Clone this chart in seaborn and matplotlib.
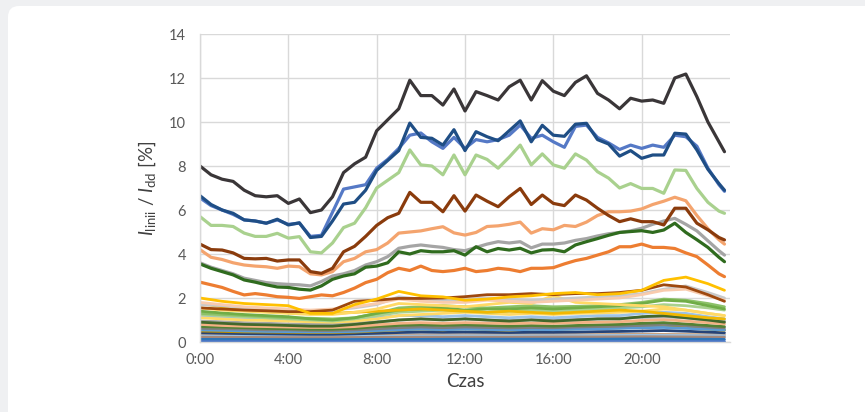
import numpy as np
import pandas as pd
import matplotlib
matplotlib.use('Agg')
import matplotlib.pyplot as plt
from matplotlib.patches import FancyBboxPatch
from matplotlib.transforms import IdentityTransform
import seaborn as sns

# ─── time grids (hours) ─────────────────────────────────────────────────────
T30 = np.append(np.arange(0, 24, 0.5), 23.75)
T60 = np.append(np.arange(0, 24, 1.0), 23.75)
T120 = np.append(np.arange(0, 24, 2.0), 23.75)

xtick_hours = [0, 4, 8, 12, 16, 20]
xtick_labels = ["0:00", "4:00", "8:00", "12:00", "16:00", "20:00"]

# ─── main lines, 30-min readings ────────────────────────────────────────────
black = [8.0, 7.6, 7.4, 7.3, 6.9, 6.65, 6.6, 6.65,
         6.3, 6.5, 5.88, 6.0, 6.6, 7.7, 8.1, 8.4,
         9.6, 10.1, 10.6, 11.9, 11.2, 11.2, 10.77, 11.5,
         10.5, 11.38, 11.2, 11.0, 11.6, 11.9, 11.0, 11.88,
         11.4, 11.2, 11.8, 12.1, 11.3, 11.0, 10.6, 11.08,
         10.95, 11.0, 10.85, 12.0, 12.18, 11.15, 10.0, 9.1,
         8.65]
navy = [6.65, 6.25, 6.0, 5.85, 5.55, 5.5, 5.4, 5.58,
        5.32, 5.42, 4.75, 4.8, 5.5, 6.27, 6.35, 6.9,
        7.8, 8.25, 8.7, 9.95, 9.3, 9.26, 8.95, 9.65,
        8.7, 9.56, 9.33, 9.15, 9.6, 10.05, 9.1, 9.85,
        9.4, 9.35, 9.9, 9.94, 9.2, 9.0, 8.45, 8.7,
        8.35, 8.5, 8.5, 9.49, 9.45, 8.73, 7.85, 7.2,
        6.9]
lblue = [6.55, 6.2, 6.0, 5.8, 5.55, 5.5, 5.4, 5.55,
         5.35, 5.4, 4.8, 4.85, 5.9, 6.95, 7.05, 7.15,
         7.9, 8.3, 8.8, 9.4, 9.5, 9.1, 8.8, 9.3,
         8.8, 9.2, 9.1, 9.2, 9.4, 9.86, 9.26, 9.4,
         9.1, 8.85, 9.8, 9.86, 9.3, 9.05, 8.75, 8.95,
         8.8, 8.95, 8.85, 9.4, 9.33, 8.9, 7.9, 7.15,
         6.85]
green = [5.7, 5.3, 5.3, 5.25, 4.95, 4.8, 4.8, 4.94,
         4.72, 4.79, 4.1, 4.05, 4.5, 5.2, 5.4, 6.1,
         7.0, 7.35, 7.7, 8.73, 8.05, 8.0, 7.6, 8.5,
         7.6, 8.5, 8.3, 7.9, 8.4, 8.95, 8.05, 8.55,
         8.05, 7.9, 8.55, 8.27, 7.74, 7.45, 7.0, 7.2,
         6.98, 6.98, 6.76, 7.82, 7.8, 6.98, 6.35, 5.95,
         5.85]
rust = [4.45, 4.2, 4.18, 4.05, 3.8, 3.78, 3.8, 3.68,
        3.73, 3.73, 3.2, 3.12, 3.35, 4.1, 4.35, 4.8,
        5.3, 5.65, 5.85, 6.8, 6.35, 6.35, 5.92, 6.65,
        5.95, 6.68, 6.4, 6.15, 6.6, 6.98, 6.25, 6.68,
        6.3, 6.2, 6.68, 6.45, 6.08, 5.75, 5.47, 5.6,
        5.47, 5.47, 5.32, 6.08, 6.08, 5.4, 5.1, 4.75,
        4.64]
salmon = [4.2, 3.85, 3.75, 3.6, 3.5, 3.45, 3.42, 3.35,
          3.45, 3.42, 3.1, 3.05, 3.2, 3.65, 3.8, 4.1,
          4.2, 4.5, 4.95, 5.0, 5.05, 5.15, 5.24, 4.96,
          4.86, 4.98, 5.25, 5.28, 5.35, 5.45, 4.95, 5.15,
          5.1, 5.3, 5.25, 5.45, 5.75, 5.92, 5.92, 5.95,
          6.05, 6.25, 6.4, 6.58, 6.42, 5.75, 5.15, 4.65,
          4.45]
gray = [3.6, 3.4, 3.25, 3.1, 2.9, 2.8, 2.7, 2.65,
        2.62, 2.6, 2.55, 2.75, 3.0, 3.1, 3.25, 3.5,
        3.65, 3.88, 4.26, 4.35, 4.41, 4.35, 4.3, 4.2,
        4.15, 4.3, 4.45, 4.56, 4.5, 4.56, 4.28, 4.45,
        4.45, 4.5, 4.62, 4.7, 4.82, 4.92, 4.98, 5.05,
        5.17, 5.35, 5.5, 5.62, 5.35, 5.05, 4.6, 4.15,
        3.95]
dgreen = [3.55, 3.35, 3.2, 3.05, 2.82, 2.72, 2.6, 2.5,
          2.48, 2.4, 2.36, 2.55, 2.85, 3.0, 3.1, 3.4,
          3.45, 3.6, 4.1, 4.0, 4.15, 4.1, 4.1, 4.15,
          3.95, 4.33, 4.1, 4.25, 4.18, 4.26, 4.05, 4.18,
          4.2, 4.1, 4.41, 4.56, 4.7, 4.85, 4.98, 5.02,
          5.06, 4.98, 5.09, 5.4, 4.98, 4.65, 4.3, 3.85,
          3.65]
dorange = [2.72, 2.6, 2.48, 2.3, 2.14, 2.2, 2.14, 2.06,
           2.03, 1.98, 2.06, 2.14, 2.1, 2.25, 2.45, 2.7,
           2.85, 3.15, 3.35, 3.25, 3.45, 3.25, 3.2, 3.25,
           3.35, 3.2, 3.25, 3.35, 3.3, 3.2, 3.35, 3.35,
           3.38, 3.55, 3.7, 3.8, 3.95, 4.1, 4.33, 4.33,
           4.45, 4.3, 4.3, 4.25, 4.05, 3.88, 3.5, 3.1,
           2.97]

# ─── low lines, hourly readings ─────────────────────────────────────────────
brown2 = [1.55, 1.5, 1.45, 1.42, 1.38, 1.38, 1.45, 1.85, 1.9, 1.98, 1.98, 2.0,
          2.06, 2.15, 2.15, 2.2, 2.15, 2.2, 2.2, 2.25, 2.35, 2.6, 2.5, 2.15, 1.85]
goldA = [2.0, 1.85, 1.75, 1.7, 1.65, 1.3, 1.3, 1.7, 1.95, 2.3, 2.1, 2.05,
         1.9, 1.95, 2.05, 2.1, 2.2, 2.25, 2.15, 2.2, 2.35, 2.8, 2.95, 2.65, 2.35]
goldB = [1.75, 1.6, 1.5, 1.45, 1.4, 1.3, 1.3, 1.35, 1.4, 1.45, 1.5, 1.45,
         1.4, 1.35, 1.4, 1.35, 1.3, 1.35, 1.4, 1.45, 1.4, 1.3, 1.2, 1.1, 1.05]
peach = [1.8, 1.7, 1.6, 1.55, 1.5, 1.45, 1.5, 1.6, 1.75, 1.95, 1.85, 1.8,
         1.8, 1.9, 1.85, 1.8, 1.85, 1.9, 1.95, 2.0, 2.15, 2.35, 2.4, 2.1, 1.9]
lgray = [1.7, 1.65, 1.55, 1.5, 1.45, 1.4, 1.45, 1.55, 1.7, 2.05, 1.95, 1.9,
         1.95, 2.0, 1.95, 1.9, 1.95, 2.0, 2.05, 2.1, 2.2, 2.4, 2.55, 2.25, 2.0]
green2 = [1.4, 1.32, 1.25, 1.2, 1.15, 1.05, 1.0, 1.1, 1.3, 1.45, 1.5, 1.55,
          1.45, 1.5, 1.5, 1.55, 1.5, 1.55, 1.6, 1.65, 1.75, 1.9, 1.85, 1.65, 1.5]
lgreen2 = [1.25, 1.2, 1.15, 1.1, 1.05, 1.0, 0.95, 1.05, 1.2, 1.35, 1.4, 1.45,
           1.4, 1.35, 1.4, 1.45, 1.4, 1.45, 1.5, 1.55, 1.6, 1.7, 1.65, 1.55, 1.45]
dgreen2 = [0.9, 0.85, 0.8, 0.78, 0.75, 0.72, 0.72, 0.8, 0.9, 1.0, 1.05, 1.0,
           1.05, 1.0, 0.95, 1.0, 0.95, 1.0, 1.05, 1.05, 1.15, 1.2, 1.1, 1.0, 0.9]
skyblue = [1.15, 1.1, 1.05, 1.0, 0.98, 0.95, 0.95, 1.0, 1.1, 1.2, 1.2, 1.15,
           1.2, 1.15, 1.1, 1.15, 1.1, 1.15, 1.2, 1.2, 1.3, 1.35, 1.3, 1.15, 1.05]
yellow = [1.55, 1.45, 1.4, 1.35, 1.3, 1.25, 1.25, 1.35, 1.5, 1.75, 1.7, 1.65,
          1.6, 1.7, 1.8, 1.75, 2.1, 1.8, 1.75, 1.7, 1.65, 1.6, 1.45, 1.3, 1.2]
green3 = [0.7, 0.68, 0.65, 0.62, 0.6, 0.58, 0.58, 0.62, 0.7, 0.75, 0.78, 0.75,
          0.78, 0.75, 0.72, 0.75, 0.72, 0.75, 0.78, 0.8, 0.85, 0.88, 0.82, 0.75, 0.7]
dgray = [0.62, 0.6, 0.58, 0.55, 0.55, 0.52, 0.52, 0.55, 0.6, 0.65, 0.68, 0.65,
         0.68, 0.66, 0.64, 0.66, 0.65, 0.68, 0.7, 0.72, 0.76, 0.8, 0.75, 0.68, 0.64]
bblue = [0.55, 0.53, 0.5, 0.48, 0.47, 0.46, 0.46, 0.48, 0.52, 0.56, 0.58, 0.56,
         0.58, 0.57, 0.55, 0.57, 0.56, 0.58, 0.6, 0.62, 0.65, 0.66, 0.62, 0.58, 0.55]
orange2 = [0.8, 0.75, 0.72, 0.7, 0.68, 0.66, 0.66, 0.7, 0.78, 0.85, 0.88, 0.85,
           0.88, 0.86, 0.84, 0.86, 0.85, 0.88, 0.9, 0.92, 0.98, 1.02, 0.95, 0.88, 0.82]
navy2 = [0.42, 0.4, 0.38, 0.37, 0.36, 0.35, 0.35, 0.37, 0.4, 0.43, 0.45, 0.44,
         0.45, 0.44, 0.43, 0.44, 0.44, 0.45, 0.47, 0.48, 0.5, 0.52, 0.49, 0.45, 0.42]
lime = [1.3, 1.25, 1.2, 1.15, 1.1, 1.08, 1.05, 1.1, 1.3, 1.55, 1.6, 1.65,
        1.6, 1.55, 1.6, 1.65, 1.6, 1.62, 1.65, 1.7, 1.8, 1.95, 1.9, 1.75, 1.6]
amber = [1.1, 1.05, 1.0, 0.98, 0.95, 0.92, 0.9, 0.95, 1.05, 1.2, 1.25, 1.3,
         1.35, 1.3, 1.25, 1.3, 1.25, 1.3, 1.32, 1.35, 1.4, 1.5, 1.45, 1.3, 1.2]
midgray = [0.95, 0.92, 0.88, 0.85, 0.82, 0.8, 0.8, 0.85, 0.92, 1.0, 1.05, 1.02,
           1.05, 1.0, 0.98, 1.02, 1.0, 1.02, 1.05, 1.08, 1.12, 1.15, 1.1, 1.0, 0.95]
olive = [0.5, 0.48, 0.46, 0.45, 0.44, 0.43, 0.43, 0.45, 0.5, 0.55, 0.58, 0.55,
         0.6, 0.56, 0.54, 0.58, 0.56, 0.6, 0.62, 0.64, 0.68, 0.7, 0.65, 0.58, 0.54]

# ─── near-zero lines, 2-hourly readings ─────────────────────────────────────
tan = [0.32, 0.31, 0.3, 0.3, 0.31, 0.32, 0.33, 0.33, 0.33, 0.34, 0.35, 0.34, 0.33]
ltblue = [0.27, 0.26, 0.25, 0.25, 0.26, 0.27, 0.28, 0.28, 0.28, 0.29, 0.3, 0.29, 0.28]
mauve = [0.22, 0.21, 0.2, 0.2, 0.21, 0.22, 0.22, 0.22, 0.23, 0.23, 0.24, 0.23, 0.22]
steel = [0.12, 0.12, 0.11, 0.11, 0.12, 0.12, 0.13, 0.13, 0.13, 0.13, 0.14, 0.13, 0.12]
blue3 = [0.05, 0.05, 0.05, 0.05, 0.05, 0.05, 0.05, 0.05, 0.05, 0.05, 0.05, 0.05, 0.05]

# name -> (times, values, colour), drawing order bottom to top
low_series = {
    "tan": (T120, tan, "#c9a27e"), "ltblue": (T120, ltblue, "#9dc3e6"),
    "mauve": (T120, mauve, "#a5887a"), "steel": (T120, steel, "#2e75b6"),
    "blue3": (T120, blue3, "#4472c4"),
    "navy2": (T60, navy2, "#264478"), "olive": (T60, olive, "#bf9000"),
    "bblue": (T60, bblue, "#5b9bd5"),
    "dgray": (T60, dgray, "#7f7f7f"), "green3": (T60, green3, "#548235"),
    "orange2": (T60, orange2, "#f4b183"), "midgray": (T60, midgray, "#a5a5a5"),
    "dgreen2": (T60, dgreen2, "#43682b"),
    "skyblue": (T60, skyblue, "#9dc3e6"), "amber": (T60, amber, "#ffd966"),
    "lgreen2": (T60, lgreen2, "#a9d18e"), "lime": (T60, lime, "#8cc168"),
    "green2": (T60, green2, "#70ad47"), "goldB": (T60, goldB, "#f2b800"),
    "yellow": (T60, yellow, "#ffd966"), "lgray": (T60, lgray, "#c9c9c9"),
    "peach": (T60, peach, "#f8cbad"), "brown2": (T60, brown2, "#9e480e"),
    "goldA": (T60, goldA, "#ffc000"),
}
main_series = {
    "dorange": (T30, dorange, "#ed7d31"), "gray": (T30, gray, "#a5a5a5"),
    "dgreen": (T30, dgreen, "#2f6b1e"), "salmon": (T30, salmon, "#f4a46e"),
    "rust": (T30, rust, "#8a3b0c"), "green": (T30, green, "#a9d18e"),
    "lblue": (T30, lblue, "#5579c6"), "navy": (T30, navy, "#1f4e85"),
    "black": (T30, black, "#3a3638"),
}


def to_frame(series):
    parts = [pd.DataFrame({"t": t, "v": v, "series": name})
             for name, (t, v, _) in series.items()]
    return pd.concat(parts, ignore_index=True)


sns.set_style("white")
plt.rcParams['font.family'] = ['Lato', 'DejaVu Sans']
plt.rcParams['mathtext.fontset'] = 'custom'
plt.rcParams['mathtext.rm'] = 'Lato'
plt.rcParams['mathtext.it'] = 'Lato:italic'

fig = plt.figure(figsize=(8.65, 4.12), dpi=100, facecolor="#eff0f2")
# white rounded card behind the chart
fig.patches.append(FancyBboxPatch((8, -12), 870, 418,
                                  boxstyle="round,pad=0,rounding_size=11",
                                  transform=IdentityTransform(),
                                  facecolor="white", edgecolor="none", zorder=-5))
ax = fig.add_axes([200 / 865, 70 / 412, 530 / 865, 308 / 412])
ax.set_facecolor("white")

for group, lw in ((low_series, 2.0), (main_series, 2.3)):
    df = to_frame(group)
    sns.lineplot(data=df, x="t", y="v", hue="series", hue_order=list(group),
                 palette={k: c for k, (_, _, c) in group.items()},
                 estimator=None, sort=False, linewidth=lw, legend=False, ax=ax)

ax.set_xlim(0, 24)
ax.set_ylim(0, 14)
ax.set_xticks(xtick_hours)
ax.set_xticklabels(xtick_labels)
ax.set_yticks(range(0, 15, 2))
ax.grid(True, color="#d9d9d9", linewidth=1.0)
ax.set_axisbelow(True)
for side in ("top", "right"):
    ax.spines[side].set_visible(False)
for side in ("left", "bottom"):
    ax.spines[side].set_color("#d9d9d9")
    ax.spines[side].set_linewidth(1.0)
ax.tick_params(axis="both", length=0, labelsize=10.5, labelcolor="#595959")
ax.tick_params(axis="y", pad=10)
ax.tick_params(axis="x", pad=8)

ax.set_xlabel("Czas", fontsize=13.5, color="#404040", labelpad=4)
ax.set_ylabel(r"$I_{\mathrm{linii}}$ / $I_{\mathrm{dd}}$ [%]", fontsize=13.5,
              color="#404040", labelpad=8)

fig.savefig("out.png", dpi=100, facecolor=fig.get_facecolor())
